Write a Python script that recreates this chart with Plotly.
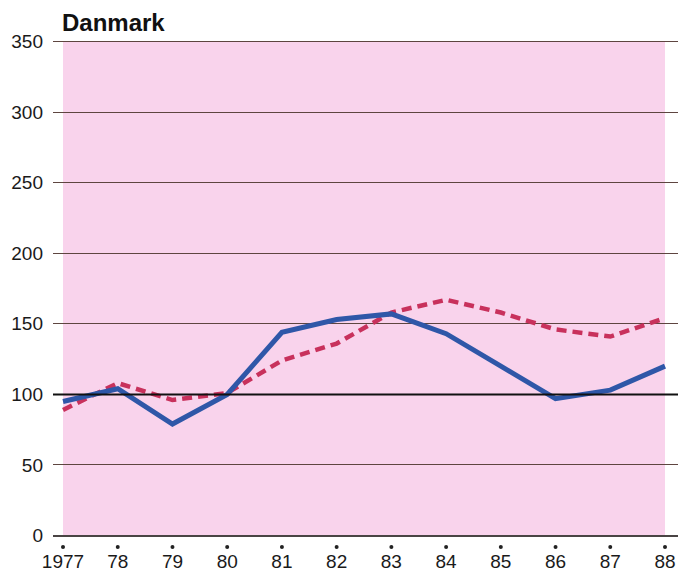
import plotly.graph_objects as go

# Index series for Denmark, 1977-1988
years = [1977, 1978, 1979, 1980, 1981, 1982, 1983, 1984, 1985, 1986, 1987, 1988]
year_labels = ["1977", "78", "79", "80", "81", "82", "83", "84", "85", "86", "87", "88"]
solid_series = [95, 104, 79, 100, 144, 153, 157, 143, 120, 97, 103, 120]
dashed_series = [89, 108, 96, 101, 124, 136, 158, 167, 158, 146, 141, 154]
y_ticks = [0, 50, 100, 150, 200, 250, 300, 350]
reference_level = 100

FONT = "Liberation Sans, Arial, sans-serif"

fig = go.Figure()

fig.add_trace(go.Scatter(
    x=years, y=dashed_series, mode="lines",
    line=dict(color="#c8315c", width=4.5, dash="10px,6px"),
    hoverinfo="skip", showlegend=False,
))
fig.add_trace(go.Scatter(
    x=years, y=solid_series, mode="lines",
    line=dict(color="#2f57a8", width=5),
    hoverinfo="skip", showlegend=False,
))

shapes = [
    # pink panel behind the lines
    dict(type="rect", xref="x", yref="y", x0=years[0], x1=years[-1],
         y0=y_ticks[0], y1=y_ticks[-1], fillcolor="#f9d3ec",
         line=dict(width=0), layer="below"),
    # reference line at 100
    dict(type="line", xref="paper", yref="y", x0=0, x1=1,
         y0=reference_level, y1=reference_level,
         line=dict(color="#111111", width=2), layer="above"),
]

# small dots just above each year label
for yr in years:
    shapes.append(dict(
        type="circle", xref="x", yref="paper",
        xsizemode="pixel", ysizemode="pixel",
        xanchor=yr, yanchor=0,
        x0=-2, x1=2, y0=-12, y1=-8,
        fillcolor="#222222", line=dict(width=0),
    ))

annotations = [dict(
    x=0, xref="paper", xanchor="left", xshift=7,
    y=1, yref="paper", yanchor="bottom", yshift=2,
    text="<b>Danmark</b>", showarrow=False,
    font=dict(family=FONT, size=24, color="#111111"),
)]

fig.update_layout(
    width=692, height=576,
    margin=dict(l=53, r=14, t=40, b=39),
    paper_bgcolor="white", plot_bgcolor="white",
    shapes=shapes, annotations=annotations,
    xaxis=dict(
        range=[1976.817, 1988.2375], automargin=False,
        tickmode="array", tickvals=years, ticktext=year_labels,
        showgrid=False, zeroline=False, showline=False,
        ticks="", ticklabelstandoff=11,
        tickfont=dict(family=FONT, size=19, color="#1a1a1a"),
    ),
    yaxis=dict(
        range=[-1, 351], automargin=False,
        tickmode="array", tickvals=y_ticks,
        showgrid=True, gridcolor="#5e4540", gridwidth=1.3,
        zeroline=True, zerolinecolor="#4a4444", zerolinewidth=1.6,
        showline=False,
        ticks="", ticklabelstandoff=9,
        tickfont=dict(family=FONT, size=19, color="#1a1a1a"),
    ),
)

fig.write_html("out.html")
